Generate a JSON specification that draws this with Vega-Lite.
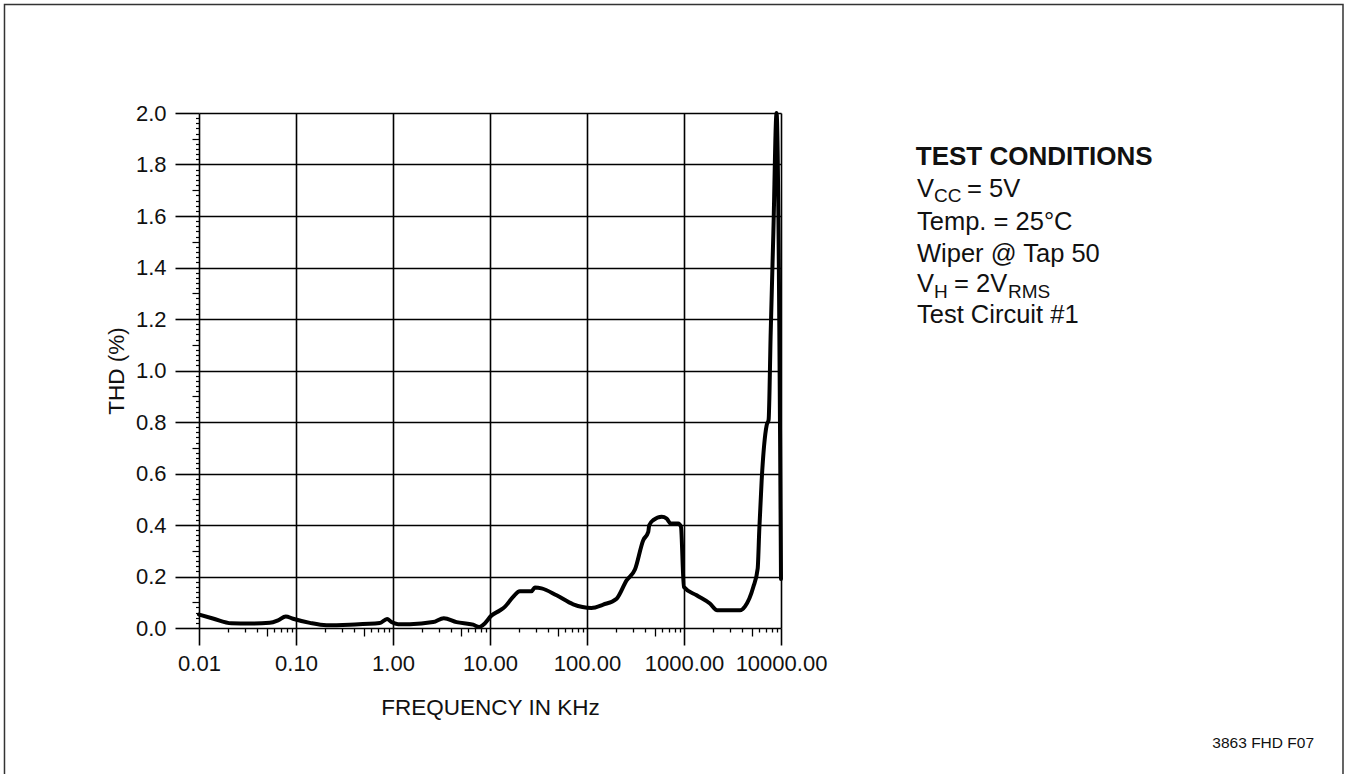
{
  "$schema": "https://vega.github.io/schema/vega-lite/v6.json",
  "width": 582,
  "height": 515,
  "autosize": {"type": "none"},
  "padding": {"left": 199, "top": 113, "right": 567, "bottom": 146},
  "background": "white",
  "config": {"view": {"stroke": null}, "font": "Liberation Sans"},
  "datasets": {
    "thd": [
      {"f": 0.01, "thd": 0.052}, {"f": 0.0139, "thd": 0.037}, {"f": 0.0216, "thd": 0.018},
      {"f": 0.0333, "thd": 0.017}, {"f": 0.0536, "thd": 0.02}, {"f": 0.0653, "thd": 0.03},
      {"f": 0.0784, "thd": 0.045}, {"f": 0.0933, "thd": 0.036}, {"f": 0.139, "thd": 0.02},
      {"f": 0.206, "thd": 0.011}, {"f": 0.358, "thd": 0.013}, {"f": 0.731, "thd": 0.019},
      {"f": 0.869, "thd": 0.035}, {"f": 0.964, "thd": 0.023}, {"f": 1.13, "thd": 0.015},
      {"f": 1.49, "thd": 0.015}, {"f": 2.59, "thd": 0.023}, {"f": 3.34, "thd": 0.038},
      {"f": 4.52, "thd": 0.023}, {"f": 6.7, "thd": 0.013}, {"f": 7.73, "thd": 0.004},
      {"f": 8.49, "thd": 0.012}, {"f": 10.4, "thd": 0.049}, {"f": 12.6, "thd": 0.068},
      {"f": 14.2, "thd": 0.082}, {"f": 17.3, "thd": 0.121}, {"f": 20.3, "thd": 0.143},
      {"f": 26.8, "thd": 0.143}, {"f": 29.0, "thd": 0.157}, {"f": 34.0, "thd": 0.154},
      {"f": 48.6, "thd": 0.127}, {"f": 72.1, "thd": 0.092}, {"f": 111, "thd": 0.078},
      {"f": 147, "thd": 0.091}, {"f": 202, "thd": 0.114}, {"f": 256, "thd": 0.185},
      {"f": 312, "thd": 0.227}, {"f": 380, "thd": 0.341}, {"f": 428, "thd": 0.373},
      {"f": 438, "thd": 0.399}, {"f": 482, "thd": 0.419}, {"f": 589, "thd": 0.432},
      {"f": 663, "thd": 0.425}, {"f": 728, "thd": 0.406}, {"f": 873, "thd": 0.406},
      {"f": 930, "thd": 0.393}, {"f": 998, "thd": 0.159}, {"f": 1350, "thd": 0.127},
      {"f": 1850, "thd": 0.095}, {"f": 2200, "thd": 0.069}, {"f": 3780, "thd": 0.069},
      {"f": 4260, "thd": 0.084}, {"f": 5180, "thd": 0.159}, {"f": 5750, "thd": 0.231},
      {"f": 5970, "thd": 0.38}, {"f": 6320, "thd": 0.574}, {"f": 7120, "thd": 0.788},
      {"f": 7450, "thd": 0.808}, {"f": 7830, "thd": 1.146}, {"f": 8340, "thd": 1.534},
      {"f": 9000, "thd": 2.0}, {"f": 10000, "thd": 0.19}
    ],
    "one": [{}]
  },
  "resolve": {"axis": {"x": "independent", "y": "independent"}},
  "layer": [
    {
      "data": {"name": "one"},
      "mark": {"type": "rect", "fillOpacity": 0, "stroke": "#333", "strokeWidth": 1.5},
      "encoding": {
        "x": {"datum": 0.0000988, "axis": null},
        "x2": {"datum": 6220000000},
        "y": {"datum": 2.421, "axis": null},
        "y2": {"datum": -0.575}
      }
    },
    {
      "data": {"name": "thd"},
      "mark": {"type": "point", "opacity": 0},
      "encoding": {
        "x": {"field": "f", "type": "quantitative",
          "axis": {"orient": "bottom", "values": [0.02,0.03,0.04,0.06,0.07,0.08,0.09,0.2,0.3,0.4,0.6,0.7,0.8,0.9,2,3,4,6,7,8,9,20,30,40,60,70,80,90,200,300,400,600,700,800,900,2000,3000,4000,6000,7000,8000,9000],
            "labels": false, "grid": false, "domain": false, "title": null, "tickSize": 4, "tickColor": "#000", "tickWidth": 1.3}},
        "y": {"field": "thd", "type": "quantitative",
          "axis": {"orient": "left", "values": [0.02,0.04,0.06,0.08,0.12,0.14,0.16,0.18,0.22,0.24,0.26,0.28,0.32,0.34,0.36,0.38,0.42,0.44,0.46,0.48,0.52,0.54,0.56,0.58,0.62,0.64,0.66,0.68,0.72,0.74,0.76,0.78,0.82,0.84,0.86,0.88,0.92,0.94,0.96,0.98,1.02,1.04,1.06,1.08,1.12,1.14,1.16,1.18,1.22,1.24,1.26,1.28,1.32,1.34,1.36,1.38,1.42,1.44,1.46,1.48,1.52,1.54,1.56,1.58,1.62,1.64,1.66,1.68,1.72,1.74,1.76,1.78,1.82,1.84,1.86,1.88,1.92,1.94,1.96,1.98],
            "labels": false, "grid": false, "domain": false, "title": null, "tickSize": 3.5, "tickColor": "#000", "tickWidth": 1.2}}
      }
    },
    {
      "data": {"name": "thd"},
      "mark": {"type": "point", "opacity": 0},
      "encoding": {
        "x": {"field": "f", "type": "quantitative",
          "axis": {"orient": "bottom", "values": [0.05,0.5,5,50,500,5000],
            "labels": false, "grid": false, "domain": false, "title": null, "tickSize": 8, "tickColor": "#000", "tickWidth": 1.3}},
        "y": {"field": "thd", "type": "quantitative",
          "axis": {"orient": "left", "values": [0.1,0.3,0.5,0.7,0.9,1.1,1.3,1.5,1.7,1.9],
            "labels": false, "grid": false, "domain": false, "title": null, "tickSize": 7, "tickColor": "#000", "tickWidth": 1.2}}
      }
    },
    {
      "data": {"name": "thd"},
      "mark": {"type": "line", "color": "#000", "strokeWidth": 4, "strokeJoin": "round", "strokeCap": "round", "interpolate": "monotone"},
      "encoding": {
        "x": {"field": "f", "type": "quantitative",
          "scale": {"type": "log", "domain": [0.01, 10000], "nice": false},
          "axis": {"orient": "bottom", "values": [0.01,0.1,1,10,100,1000,10000], "format": ".2f",
            "grid": true, "gridColor": "#000", "gridWidth": 1.6, "gridOpacity": 1,
            "domain": false, "tickSize": 17, "tickColor": "#000", "tickWidth": 1.6,
            "labelPadding": 8, "labelFont": "Liberation Sans", "labelFontSize": 22, "labelColor": "#111",
            "labelFlush": false, "labelOverlap": false, "labelBound": false,
            "title": "FREQUENCY IN KHz", "titleFont": "Liberation Sans", "titleFontSize": 22.5,
            "titleFontWeight": "normal", "titleColor": "#111", "titlePadding": 22}},
        "y": {"field": "thd", "type": "quantitative",
          "scale": {"domain": [0, 2], "nice": false, "zero": true},
          "axis": {"orient": "left", "values": [0,0.2,0.4,0.6,0.8,1.0,1.2,1.4,1.6,1.8,2.0], "format": ".1f",
            "grid": true, "gridColor": "#000", "gridWidth": 1.6, "gridOpacity": 1,
            "domain": false, "tickSize": 24, "tickColor": "#000", "tickWidth": 1.6,
            "labelPadding": 9, "labelFont": "Liberation Sans", "labelFontSize": 22, "labelColor": "#111",
            "labelOverlap": false, "labelBound": false, "labelFlush": false,
            "title": "THD (%)", "titleFont": "Liberation Sans", "titleFontSize": 22.5,
            "titleFontWeight": "normal", "titleColor": "#111", "titlePadding": 7}}
      }
    },
    {
      "data": {"name": "one"},
      "mark": {"type": "text", "text": "TEST CONDITIONS", "align": "left", "baseline": "alphabetic", "font": "Liberation Sans", "fontSize": 26, "fontWeight": "bold", "color": "#111"},
      "encoding": {"x": {"datum": 245000, "axis": null}, "y": {"datum": 1.798, "axis": null}}
    },
    {
      "data": {"name": "one"},
      "mark": {"type": "text", "text": "V", "align": "left", "baseline": "alphabetic", "font": "Liberation Sans", "fontSize": 25.5, "color": "#111"},
      "encoding": {"x": {"datum": 252500, "axis": null}, "y": {"datum": 1.675, "axis": null}}
    },
    {
      "data": {"name": "one"},
      "mark": {"type": "text", "text": "CC", "align": "left", "baseline": "alphabetic", "font": "Liberation Sans", "fontSize": 19, "color": "#111"},
      "encoding": {"x": {"datum": 377600, "axis": null}, "y": {"datum": 1.656, "axis": null}}
    },
    {
      "data": {"name": "one"},
      "mark": {"type": "text", "text": "= 5V", "align": "left", "baseline": "alphabetic", "font": "Liberation Sans", "fontSize": 25.5, "color": "#111"},
      "encoding": {"x": {"datum": 827600, "axis": null}, "y": {"datum": 1.675, "axis": null}}
    },
    {
      "data": {"name": "one"},
      "mark": {"type": "text", "text": "Temp. = 25°C", "align": "left", "baseline": "alphabetic", "font": "Liberation Sans", "fontSize": 25.5, "color": "#111"},
      "encoding": {"x": {"datum": 252500, "axis": null}, "y": {"datum": 1.546, "axis": null}}
    },
    {
      "data": {"name": "one"},
      "mark": {"type": "text", "text": "Wiper @ Tap 50", "align": "left", "baseline": "alphabetic", "font": "Liberation Sans", "fontSize": 25.5, "color": "#111"},
      "encoding": {"x": {"datum": 252500, "axis": null}, "y": {"datum": 1.423, "axis": null}}
    },
    {
      "data": {"name": "one"},
      "mark": {"type": "text", "text": "V", "align": "left", "baseline": "alphabetic", "font": "Liberation Sans", "fontSize": 25.5, "color": "#111"},
      "encoding": {"x": {"datum": 252500, "axis": null}, "y": {"datum": 1.306, "axis": null}}
    },
    {
      "data": {"name": "one"},
      "mark": {"type": "text", "text": "H", "align": "left", "baseline": "alphabetic", "font": "Liberation Sans", "fontSize": 19, "color": "#111"},
      "encoding": {"x": {"datum": 377600, "axis": null}, "y": {"datum": 1.282, "axis": null}}
    },
    {
      "data": {"name": "one"},
      "mark": {"type": "text", "text": "= 2V", "align": "left", "baseline": "alphabetic", "font": "Liberation Sans", "fontSize": 25.5, "color": "#111"},
      "encoding": {"x": {"datum": 608000, "axis": null}, "y": {"datum": 1.306, "axis": null}}
    },
    {
      "data": {"name": "one"},
      "mark": {"type": "text", "text": "RMS", "align": "left", "baseline": "alphabetic", "font": "Liberation Sans", "fontSize": 19, "color": "#111"},
      "encoding": {"x": {"datum": 2188000, "axis": null}, "y": {"datum": 1.282, "axis": null}}
    },
    {
      "data": {"name": "one"},
      "mark": {"type": "text", "text": "Test Circuit #1", "align": "left", "baseline": "alphabetic", "font": "Liberation Sans", "fontSize": 25.5, "color": "#111"},
      "encoding": {"x": {"datum": 252500, "axis": null}, "y": {"datum": 1.184, "axis": null}}
    },
    {
      "data": {"name": "one"},
      "mark": {"type": "text", "text": "3863 FHD F07", "align": "right", "baseline": "alphabetic", "font": "Liberation Sans", "fontSize": 15.5, "color": "#111"},
      "encoding": {"x": {"datum": 3126000000, "axis": null}, "y": {"datum": -0.466, "axis": null}}
    }
  ]
}
